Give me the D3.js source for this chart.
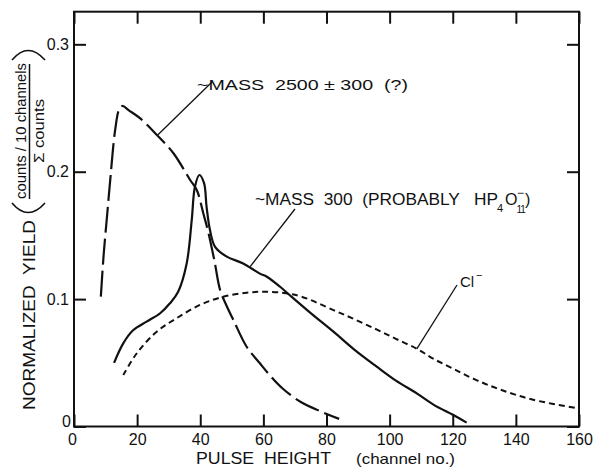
<!DOCTYPE html>
<html><head><meta charset="utf-8">
<script src="https://cdn.jsdelivr.net/npm/d3@7/dist/d3.min.js"></script>
<style>
html,body{margin:0;padding:0;background:#fff;}
svg{display:block;}
text{font-family:"Liberation Sans",Arial,sans-serif;fill:#111;white-space:pre;}
</style></head>
<body>
<svg id="chart" width="594" height="470"></svg>
<script>
// ---- data ----
const xTicks = [0, 20, 40, 60, 80, 100, 120, 140, 160];
const yTicks = [0, 0.1, 0.2, 0.3];
const yTickLabels = ["0", "0.1", "0.2", "0.3"];

// ~MASS 2500 +/- 300 (?)  (long dashes)
const heavyX = [8.5, 9.4, 10.5, 11.6, 13.0, 14.3, 15.3, 17.5, 20.9, 26.2, 31.5, 36.8, 38.9, 41.0, 42.6, 44.5, 46.3, 48.3, 50.5, 54.7, 58.9, 62.1, 66, 72, 78, 84];
const heavyY = [0.102, 0.135, 0.166, 0.197, 0.232, 0.249, 0.2516, 0.248, 0.242, 0.229, 0.2145, 0.1935, 0.1856, 0.167, 0.152, 0.130, 0.107, 0.095, 0.0836, 0.0626, 0.0496, 0.040, 0.030, 0.019, 0.012, 0.006];

// ~MASS 300 (solid)
const m300X = [12.7, 15.6, 18.8, 23.0, 27.3, 30.4, 33.0, 35.7, 37.3, 38.3, 39.7, 41.2, 42.0, 43.1, 44.7, 48.4, 53.6, 58.9, 61.1, 65.3, 68.4, 75, 82.2, 89, 95.9, 102, 108.6, 114, 120.2, 124.4];
const m300Y = [0.050, 0.0653, 0.0757, 0.0823, 0.0889, 0.0967, 0.1058, 0.128, 0.162, 0.188, 0.1974, 0.191, 0.1725, 0.154, 0.141, 0.1333, 0.128, 0.120, 0.1176, 0.1097, 0.103, 0.089, 0.0744, 0.060, 0.047, 0.036, 0.026, 0.017, 0.009, 0.003];

// Cl- (short dashes)
const clX = [15.6, 19.9, 26.2, 32.5, 39.9, 47.3, 54.7, 60, 66, 72, 82.2, 89, 96, 102, 108.6, 114, 120, 127, 135, 145.5, 159.5];
const clY = [0.0404, 0.0575, 0.0744, 0.085, 0.0954, 0.1019, 0.105, 0.1058, 0.105, 0.102, 0.0914, 0.084, 0.076, 0.0688, 0.061, 0.053, 0.0455, 0.037, 0.029, 0.021, 0.0143];

// ---- chart ----
const svg = d3.select("#chart");
const L = 74, R = 579, T = 11.7, B = 426.5;
const x = d3.scaleLinear().domain([0, 160]).range([L, R]);
const y = d3.scaleLinear().domain([0, 0.3256]).range([B, T]);

const line = d3.line().x(d => x(d[0])).y(d => y(d[1])).curve(d3.curveCatmullRom.alpha(0.5));
const zip = (a, b) => a.map((v, i) => [v, b[i]]);

// frame
svg.append("rect").attr("x", L).attr("y", T).attr("width", R - L).attr("height", B - T)
  .attr("fill", "none").attr("stroke", "#111").attr("stroke-width", 2);

function styleAxis(g) {
  g.select(".domain").remove();
  g.selectAll(".tick line").attr("stroke", "#111").attr("stroke-width", 2);
  g.selectAll(".tick text").attr("font-size", 16).attr("fill", "#111")
    .attr("font-family", '"Liberation Sans",Arial,sans-serif');
}
const gx = svg.append("g").attr("transform", `translate(0,${B})`)
  .call(d3.axisBottom(x).tickValues(xTicks).tickSize(-12).tickPadding(7).tickFormat(d3.format("d")));
styleAxis(gx);
gx.selectAll(".tick text").filter(d => d === 0).attr("dx", -2);

const gy = svg.append("g").attr("transform", `translate(${L},0)`)
  .call(d3.axisLeft(y).tickValues(yTicks).tickSize(-12).tickPadding(5).tickFormat((d, i) => yTickLabels[i]));
styleAxis(gy);
gy.selectAll(".tick text").filter(d => d === 0).attr("dy", "-0.03em").attr("dx", 2);

const gt = svg.append("g").attr("transform", `translate(0,${T})`)
  .call(d3.axisTop(x).tickValues(xTicks).tickSize(-12).tickFormat(""));
styleAxis(gt);
const gr = svg.append("g").attr("transform", `translate(${R},0)`)
  .call(d3.axisRight(y).tickValues(yTicks).tickSize(-12).tickFormat(""));
styleAxis(gr);

// curves
svg.append("path").attr("d", line(zip(clX, clY))).attr("fill", "none")
  .attr("stroke", "#111").attr("stroke-width", 2).attr("stroke-dasharray", "6,4");
svg.append("path").attr("d", line(zip(m300X, m300Y))).attr("fill", "none")
  .attr("stroke", "#111").attr("stroke-width", 2.2);
svg.append("path").attr("d", line(zip(heavyX, heavyY))).attr("fill", "none")
  .attr("stroke", "#111").attr("stroke-width", 2.2).attr("stroke-dasharray", "26,6");

// leader lines: text end (px) -> point on curve (data)
const leaders = [
  {from: [212, 82], to: [26.6, 0.229]},
  {from: [295, 209], to: [55.8, 0.1255]},
  {from: [457, 285], to: [108.6, 0.061]}
];
svg.selectAll("line.leader").data(leaders).enter().append("line").attr("class", "leader")
  .attr("x1", d => d.from[0]).attr("y1", d => d.from[1])
  .attr("x2", d => x(d.to[0])).attr("y2", d => y(d.to[1]))
  .attr("stroke", "#111").attr("stroke-width", 1.3);

// annotations
svg.append("text").attr("x", 197).attr("y", 90).attr("font-size", 15)
  .attr("textLength", 211).attr("lengthAdjust", "spacingAndGlyphs").text("~MASS  2500 ± 300  (?)");
svg.append("text").attr("x", 255).attr("y", 205).attr("font-size", 16)
  .attr("textLength", 243).attr("lengthAdjust", "spacingAndGlyphs").text("~MASS  300  (PROBABLY   HP");
svg.append("text").attr("x", 497).attr("y", 212).attr("font-size", 11).text("4");
svg.append("text").attr("x", 505).attr("y", 205).attr("font-size", 16).text("O");
svg.append("text").attr("x", 516.5).attr("y", 213).attr("font-size", 10).attr("letter-spacing", -1).text("11");
svg.append("text").attr("x", 517).attr("y", 197).attr("font-size", 12).text("−");
svg.append("text").attr("x", 525).attr("y", 205).attr("font-size", 16).text(")");
svg.append("text").attr("x", 460).attr("y", 287).attr("font-size", 15).text("Cl");
svg.append("text").attr("x", 476).attr("y", 279).attr("font-size", 11).text("−");

// x-axis title
svg.append("text").attr("x", 196).attr("y", 464).attr("font-size", 16)
  .attr("textLength", 135).attr("lengthAdjust", "spacingAndGlyphs").text("PULSE  HEIGHT");
svg.append("text").attr("x", 356).attr("y", 464).attr("font-size", 15)
  .attr("textLength", 99).attr("lengthAdjust", "spacingAndGlyphs").text("(channel no.)");

// y-axis title (rotated)
function vtext(tx, ty, str, size, anchor, len) {
  const t = svg.append("text").attr("transform", `translate(${tx},${ty}) rotate(-90)`)
    .attr("font-size", size).attr("text-anchor", anchor).text(str);
  if (len) t.attr("textLength", len).attr("lengthAdjust", "spacingAndGlyphs");
  return t;
}
vtext(35, 410, "NORMALIZED  YIELD", 17, "start", 190);
// parentheses drawn as thin arcs
svg.append("path").attr("d", "M12,203 Q28,222 45,203").attr("fill", "none").attr("stroke", "#111").attr("stroke-width", 1.6);
svg.append("path").attr("d", "M12,60 Q28,41 45,60").attr("fill", "none").attr("stroke", "#111").attr("stroke-width", 1.6);
vtext(26, 131, "counts / 10 channels", 15, "middle", 136);
svg.append("line").attr("x1", 29.5).attr("x2", 29.5).attr("y1", 199).attr("y2", 64)
  .attr("stroke", "#111").attr("stroke-width", 1.5);
vtext(44, 131, "Σ counts", 15, "middle", 64);
</script>
</body></html>
